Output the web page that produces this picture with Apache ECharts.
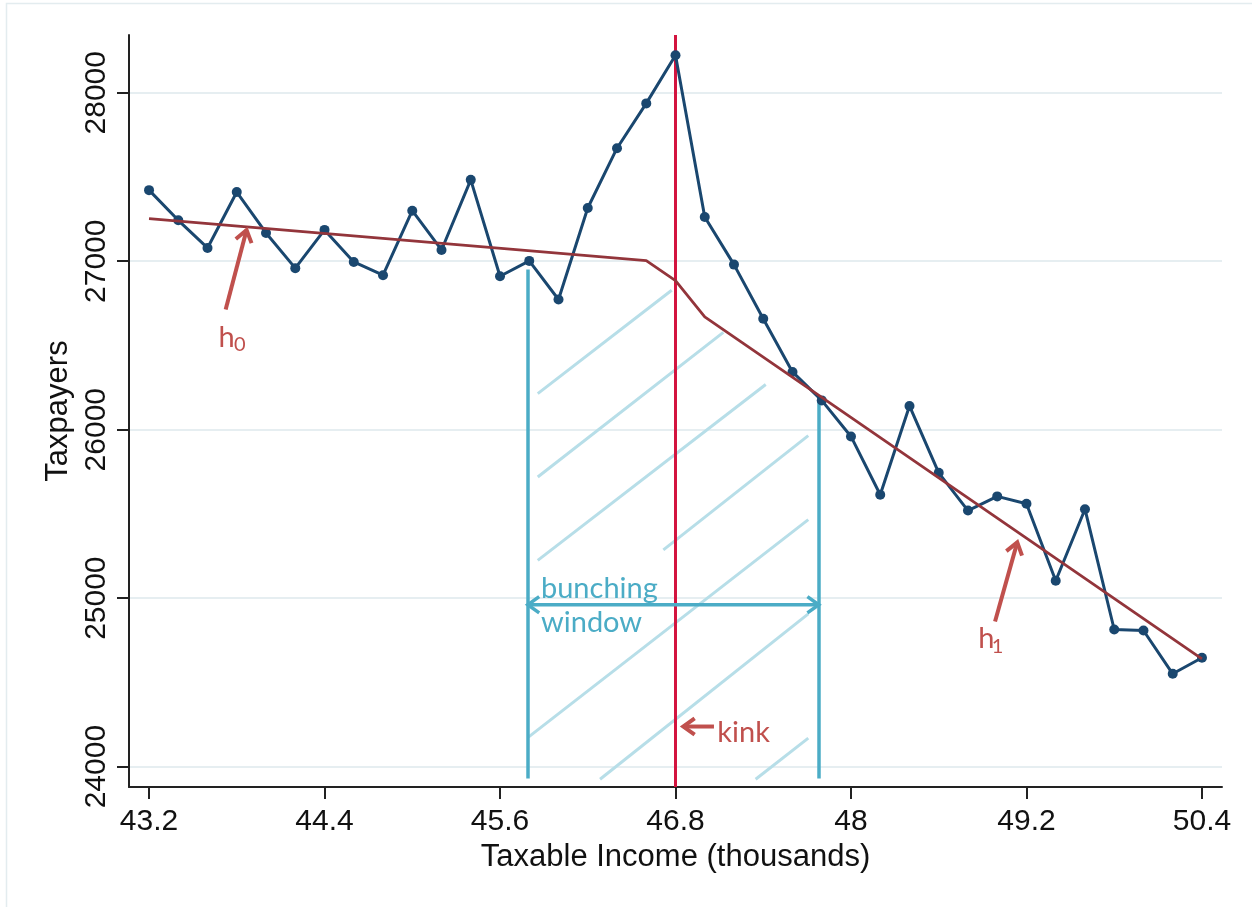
<!DOCTYPE html>
<html>
<head>
<meta charset="utf-8">
<script src="https://cdn.jsdelivr.net/npm/echarts@6/dist/echarts.min.js"></script>
<style>
  html, body { margin: 0; padding: 0; background: #ffffff; }
  #chart { width: 1252px; height: 907px; }
</style>
</head>
<body>
<div id="chart"></div>
<script>
// Taxable income bins (thousands)
const income = [43.2, 43.4, 43.6, 43.8, 44.0, 44.2, 44.4, 44.6, 44.8, 45.0,
                45.2, 45.4, 45.6, 45.8, 46.0, 46.2, 46.4, 46.6, 46.8, 47.0,
                47.2, 47.4, 47.6, 47.8, 48.0, 48.2, 48.4, 48.6, 48.8, 49.0,
                49.2, 49.4, 49.6, 49.8, 50.0, 50.2, 50.4];
// Number of taxpayers in each bin
const taxpayers = [27422, 27243, 27079, 27411, 27168, 26959, 27186, 26996, 26917, 27300,
                   27067, 27483, 26911, 27002, 26773, 27316, 27671, 27937, 28223, 27263,
                   26980, 26659, 26343, 26174, 25960, 25614, 26141, 25744, 25520, 25604,
                   25560, 25103, 25528, 24814, 24808, 24551, 24646];
// Counterfactual density (h0 below the kink, h1 above it)
const cfIncome = [43.2, 46.6, 46.8, 47.0, 50.4];
const cfTaxpayers = [27253, 27004, 26885, 26670, 24640];

// Axis ticks
const xTicks = [43.2, 44.4, 45.6, 46.8, 48, 49.2, 50.4];
const yTicks = [24000, 25000, 26000, 27000, 28000];

// Kink point and bunching window
const kinkIncome = 46.8;
const windowLow = 45.79;
const windowHigh = 47.78;
const windowLowTop = 26951;
const windowHighTop = 26170;
const windowBottom = 23930;
const windowArrowLevel = 24961;

// Diagonal shading inside the bunching window: [x1, y1, x2, y2]
const hatchSegments = [
  [45.858, 26214, 46.774, 26828],
  [45.858, 25719, 47.127, 26578],
  [45.858, 25224, 47.417, 26268],
  [46.717, 25287, 47.708, 25965],
  [45.794, 24175, 47.708, 25466],
  [46.284, 23925, 47.708, 24907],
  [47.348, 23925, 47.708, 24169]
];

// Annotation arrows: [tailX, tailY, tipX, tipY, headCount]
const redArrows = [
  [43.724, 26713, 43.867, 27185, 1],   // h0
  [48.985, 24861, 49.137, 25331, 1],   // h1
  [47.063, 24238, 46.853, 24238, 1]    // kink
];
const blueArrows = [
  [windowLow, windowArrowLevel, windowHigh, windowArrowLevel, 2]
];

const RED = '#c0504d';
const BLUE = '#4bacc6';
const HATCH = '#b7dee8';
const NAVY = '#1a476f';
const MAROON = '#93353b';
const KINK = '#d3143f';
const AXIS = '#222222';

const chart = echarts.init(document.getElementById('chart'), null, { renderer: 'canvas' });

function pairs(xs, ys) { return xs.map((x, i) => [x, ys[i]]); }

function makeArrowRenderer(color, width) {
  return function (params, api) {
    const p1 = api.coord([api.value(0), api.value(1)]);
    const p2 = api.coord([api.value(2), api.value(3)]);
    const heads = api.value(4);
    const head = (tip, from) => {
      const a = Math.atan2(tip[1] - from[1], tip[0] - from[0]);
      const L = 14, s = 0.62;
      return {
        type: 'polyline',
        shape: { points: [
          [tip[0] - L * Math.cos(a - s), tip[1] - L * Math.sin(a - s)],
          [tip[0], tip[1]],
          [tip[0] - L * Math.cos(a + s), tip[1] - L * Math.sin(a + s)]
        ] },
        style: { stroke: color, lineWidth: width, fill: null, lineJoin: 'miter', lineCap: 'butt' }
      };
    };
    const children = [{
      type: 'line',
      shape: { x1: p1[0], y1: p1[1], x2: p2[0], y2: p2[1] },
      style: { stroke: color, lineWidth: width }
    }, head(p2, p1)];
    if (heads === 2) children.push(head(p1, p2));
    return { type: 'group', children };
  };
}

const axisFont = 'Liberation Sans, Arial, sans-serif';

const option = {
  animation: false,
  backgroundColor: '#ffffff',
  grid: { left: 129, right: 30, top: 35, bottom: 120, containLabel: false },
  xAxis: {
    type: 'value',
    min: 43.063,
    max: 50.537,
    name: 'Taxable Income (thousands)',
    nameLocation: 'middle',
    nameGap: 53,
    nameTextStyle: { fontSize: 31, fontFamily: axisFont, color: '#111' },
    axisLine: { show: true, onZero: false, lineStyle: { color: AXIS, width: 2 } },
    axisTick: { show: true, customValues: xTicks, length: 12, lineStyle: { color: AXIS, width: 2 } },
    axisLabel: { customValues: xTicks, fontSize: 30, fontFamily: axisFont, color: '#111', margin: 20,
                 formatter: v => String(v) },
    splitLine: { show: false }
  },
  yAxis: {
    type: 'value',
    min: 23879,
    max: 28343,
    name: 'Taxpayers',
    nameLocation: 'middle',
    nameGap: 54,
    nameTextStyle: { fontSize: 31, fontFamily: axisFont, color: '#111' },
    axisLine: { show: true, onZero: false, lineStyle: { color: AXIS, width: 2 } },
    axisTick: { show: true, customValues: yTicks, length: 12, lineStyle: { color: AXIS, width: 2 } },
    axisLabel: { customValues: yTicks, rotate: 90, fontSize: 30, fontFamily: axisFont, color: '#111', margin: 17,
                 formatter: v => String(v) },
    splitLine: { show: true, lineStyle: { color: '#e6eef1', width: 2 } }
  },
  series: [
    {
      name: 'window shading',
      type: 'lines',
      coordinateSystem: 'cartesian2d',
      z: 1,
      silent: true,
      lineStyle: { color: HATCH, width: 3, opacity: 1 },
      data: hatchSegments.map(s => ({ coords: [[s[0], s[1]], [s[2], s[3]]] }))
    },
    {
      name: 'window bounds',
      type: 'lines',
      coordinateSystem: 'cartesian2d',
      z: 2,
      silent: true,
      lineStyle: { color: BLUE, width: 3.5, opacity: 1 },
      data: [
        { coords: [[windowLow, windowLowTop], [windowLow, windowBottom]] },
        { coords: [[windowHigh, windowHighTop], [windowHigh, windowBottom]] }
      ]
    },
    {
      name: 'kink',
      type: 'line',
      data: [],
      z: 3,
      markLine: {
        silent: true,
        symbol: ['none', 'none'],
        label: { show: false },
        lineStyle: { color: KINK, width: 3, type: 'solid' },
        data: [{ xAxis: kinkIncome }]
      }
    },
    {
      name: 'Taxpayers',
      type: 'line',
      z: 5,
      data: pairs(income, taxpayers),
      symbol: 'circle',
      symbolSize: 10,
      lineStyle: { color: NAVY, width: 3 },
      itemStyle: { color: NAVY }
    },
    {
      name: 'Counterfactual',
      type: 'line',
      z: 6,
      data: pairs(cfIncome, cfTaxpayers),
      showSymbol: false,
      symbol: 'none',
      lineStyle: { color: MAROON, width: 2.8 }
    },
    {
      name: 'red arrows',
      type: 'custom',
      z: 7,
      clip: false,
      silent: true,
      renderItem: makeArrowRenderer(RED, 4),
      data: redArrows
    },
    {
      name: 'blue arrows',
      type: 'custom',
      z: 7,
      clip: false,
      silent: true,
      renderItem: makeArrowRenderer(BLUE, 3.5),
      data: blueArrows
    }
  ]
};

chart.setOption(option);

// Text annotations anchored to data coordinates
const annoFont = 'Lato, "Open Sans", sans-serif';
const labels = [
  { text: 'bunching', x: 45.880, y: 25056, size: 29, color: BLUE },
  { text: 'window',   x: 45.880, y: 24854, size: 29, color: BLUE },
  { text: 'kink',     x: 47.086, y: 24200, size: 29, color: RED },
  { text: 'h',        x: 43.675, y: 26549, size: 29, color: RED },
  { text: '0',        x: 43.781, y: 26503, size: 20, color: RED },
  { text: 'h',        x: 48.871, y: 24757, size: 29, color: RED },
  { text: '1',        x: 48.962, y: 24711, size: 20, color: RED }
];

const graphic = [{
  type: 'rect',
  silent: true,
  shape: { x: 6.5, y: 3.5, width: 1300, height: 960 },
  style: { fill: null, stroke: '#e3ecef', lineWidth: 1.5 },
  z: 0
}];
labels.forEach(l => {
  const p = chart.convertToPixel({ gridIndex: 0 }, [l.x, l.y]);
  graphic.push({
    type: 'text',
    silent: true,
    x: p[0],
    y: p[1],
    z: 10,
    style: {
      text: l.text,
      fill: l.color,
      font: l.size + 'px ' + annoFont,
      textAlign: 'left',
      textVerticalAlign: 'middle'
    }
  });
});
chart.setOption({ graphic });
</script>
</body>
</html>
